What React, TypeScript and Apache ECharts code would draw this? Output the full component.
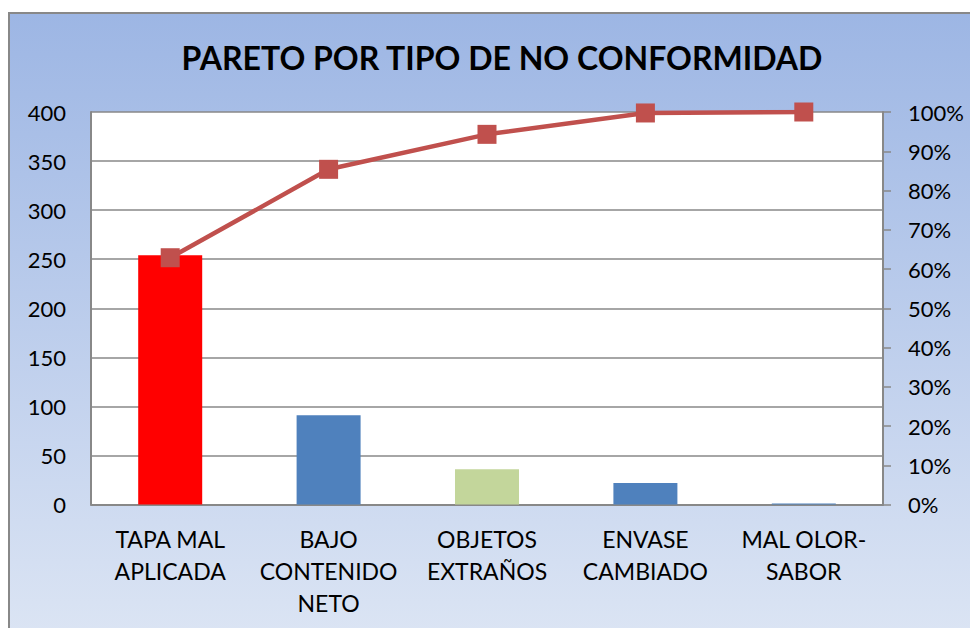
import React, { useEffect, useRef } from "react";
import * as echarts from "echarts";

const title = "PARETO POR TIPO DE NO CONFORMIDAD";
const categories = [
  "TAPA MAL\nAPLICADA",
  "BAJO\nCONTENIDO\nNETO",
  "OBJETOS\nEXTRAÑOS",
  "ENVASE\nCAMBIADO",
  "MAL OLOR-\nSABOR",
];
const counts = [254, 91, 36, 22, 1];
const barColors = ["#FF0000", "#4F81BD", "#C3D69B", "#4F81BD", "#4F81BD"];
const total = counts.reduce((a, b) => a + b, 0);
const cumulativePct: number[] = [];
counts.reduce((acc, v) => {
  const next = acc + v;
  cumulativePct.push((next / total) * 100);
  return next;
}, 0);

const FONT = "Lato, 'Open Sans', sans-serif";

export default function App() {
  const ref = useRef<HTMLDivElement>(null);
  useEffect(() => {
    if (!ref.current) return;
    const chart = echarts.init(ref.current, undefined, { renderer: "svg" });
    chart.setOption({
      animation: false,
      title: {
        text: title,
        left: 497,
        top: 52,
        textAlign: "center",
        textVerticalAlign: "middle",
        textStyle: { fontFamily: FONT, fontWeight: "bold", fontSize: 32, color: "#000" },
      },
      grid: {
        left: 91,
        right: 87,
        top: 112,
        bottom: 123.5,
        show: true,
        backgroundColor: "#FFFFFF",
        borderWidth: 0,
      },
      xAxis: {
        type: "category",
        data: categories,
        boundaryGap: true,
        axisLine: { show: true, lineStyle: { color: "#888888", width: 2 } },
        axisTick: { show: false },
        axisLabel: {
          margin: 18,
          fontFamily: FONT,
          fontSize: 23,
          lineHeight: 32,
          color: "#000",
          interval: 0,
        },
      },
      yAxis: [
        {
          type: "value",
          min: 0,
          max: 400,
          interval: 50,
          axisLine: { show: true, lineStyle: { color: "#888888", width: 2 } },
          axisTick: { show: false },
          splitLine: { show: true, lineStyle: { color: "#888888", width: 1.5 } },
          axisLabel: { margin: 25, fontFamily: FONT, fontSize: 22, color: "#000" },
        },
        {
          type: "value",
          min: 0,
          max: 100,
          interval: 10,
          position: "right",
          axisLine: { show: true, lineStyle: { color: "#888888", width: 2 } },
          axisTick: { show: true, length: 8, inside: false, lineStyle: { color: "#888888", width: 1.5 } },
          splitLine: { show: false },
          axisLabel: {
            margin: 25,
            fontFamily: FONT,
            fontSize: 22,
            color: "#000",
            formatter: "{value}%",
          },
        },
      ],
      series: [
        {
          type: "bar",
          yAxisIndex: 0,
          barWidth: 64,
          data: counts.map((v, i) => ({ value: v, itemStyle: { color: barColors[i] } })),
          z: 2,
        },
        {
          type: "line",
          yAxisIndex: 1,
          data: cumulativePct,
          symbol: "rect",
          symbolSize: 19,
          lineStyle: { color: "#C0504D", width: 4.5 },
          itemStyle: { color: "#C0504D" },
          z: 5,
        },
      ],
    });
    return () => chart.dispose();
  }, []);

  return (
    <div style={{ position: "absolute", left: 0, top: 0, width: 970, height: 628, overflow: "hidden", background: "#fff" }}>
      <div
        style={{
          position: "absolute",
          left: 8,
          top: 12,
          width: 980,
          height: 630,
          boxSizing: "border-box",
          borderLeft: "2px solid #888888",
          borderTop: "2px solid #888888",
          background: "linear-gradient(to bottom, #9DB6E4 0%, #DCE5F4 100%)",
        }}
      />
      <div ref={ref} style={{ position: "absolute", left: 0, top: 0, width: 970, height: 628 }} />
    </div>
  );
}
